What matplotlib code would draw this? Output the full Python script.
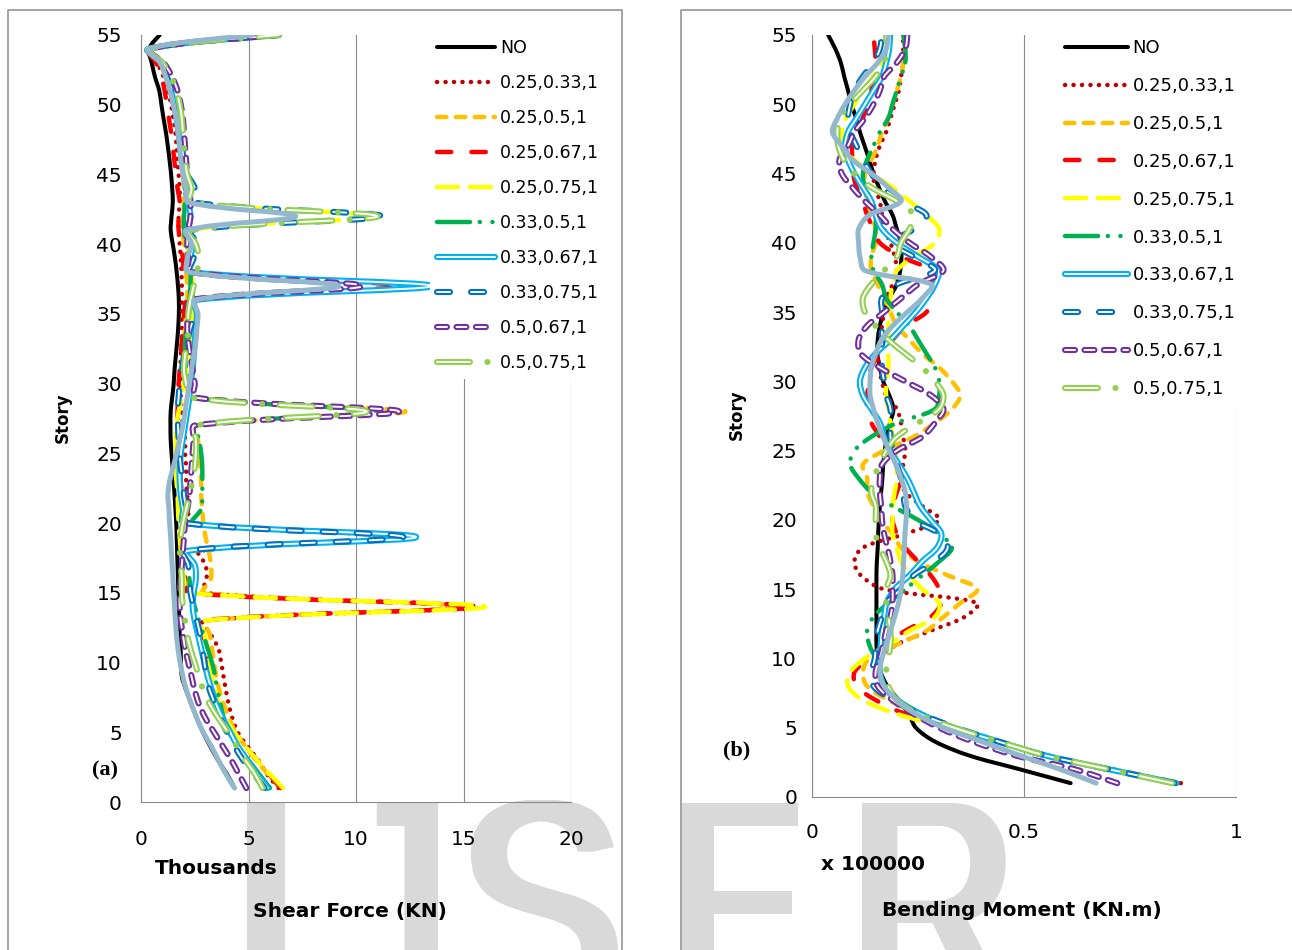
import numpy as np
import matplotlib
matplotlib.use("Agg")
import matplotlib.pyplot as plt
from matplotlib.path import Path
from matplotlib.patches import PathPatch
from matplotlib.lines import Line2D
from matplotlib.textpath import TextPath
from matplotlib.font_manager import FontProperties
from matplotlib.transforms import Affine2D

plt.rcParams["lines.scale_dashes"] = False
plt.rcParams["font.family"] = "DejaVu Sans"

stories = np.arange(1, 56)

# shear force per story (thousands of kN)
shear_no = [4.35, 4.0, 3.58, 3.22, 2.88, 2.6, 2.35, 2.1, 1.9, 1.86,
            1.84, 1.80, 1.78, 1.76, 1.74, 1.72, 1.70, 1.68, 1.66, 1.64,
            1.60, 1.56, 1.52, 1.47, 1.42, 1.38, 1.37, 1.38, 1.45, 1.52,
            1.56, 1.62, 1.68, 1.73, 1.76, 1.76, 1.72, 1.66, 1.58, 1.48,
            1.38, 1.42, 1.48, 1.45, 1.40, 1.33, 1.25, 1.16, 1.05, 0.95,
            0.85, 0.65, 0.50, 0.37, 0.87]
shear_025_033 = [6.4, 5.85, 5.45, 4.95, 4.5, 4.25, 4.08, 3.95, 3.84, 3.73,
                 3.6, 3.25, 2.9, 15.6, 2.9, 3.05, 3.0, 2.7, 11.6, 2.3,
                 2.2, 2.15, 2.1, 2.1, 2.05, 2.05, 1.95, 1.9, 1.85, 1.85,
                 1.85, 1.85, 1.9, 1.9, 1.9, 1.9, 1.9, 1.88, 1.85, 1.8,
                 1.75, 1.75, 1.8, 1.8, 1.75, 1.7, 1.65, 1.6, 1.5, 1.4,
                 1.25, 1.05, 0.75, 0.33, 6.4]
shear_025_05 = [6.5, 5.9, 5.35, 4.85, 4.4, 4.1, 3.85, 3.65, 3.5, 3.4,
                3.3, 3.2, 3.0, 14.8, 2.9, 3.25, 3.25, 3.15, 3.0, 2.9,
                2.85, 2.8, 2.8, 2.75, 2.7, 2.65, 2.5, 12.3, 2.4, 2.1,
                2.0, 2.0, 2.0, 2.05, 2.1, 2.15, 2.15, 2.1, 2.05, 2.0,
                1.95, 1.95, 2.0, 2.0, 1.95, 1.9, 1.85, 1.75, 1.65, 1.55,
                1.4, 1.15, 0.85, 0.33, 6.4]
shear_025_067 = [6.5, 5.95, 5.4, 4.85, 4.35, 3.95, 3.6, 3.35, 3.2, 3.1,
                 3.0, 2.9, 2.7, 15.5, 2.2, 2.05, 2.0, 1.95, 1.95, 1.95,
                 1.95, 1.9, 1.85, 1.8, 1.75, 1.72, 1.7, 1.7, 1.72, 1.75,
                 1.8, 1.85, 1.9, 1.95, 2.0, 2.2, 12.0, 2.1, 1.95, 1.85,
                 1.75, 1.75, 1.8, 1.7, 1.62, 1.55, 1.48, 1.4, 1.3, 1.2,
                 1.1, 0.95, 0.7, 0.33, 6.4]
shear_025_075 = [6.6, 6.0, 5.4, 4.85, 4.35, 3.95, 3.65, 3.45, 3.3, 3.2,
                 3.1, 2.95, 2.85, 16.0, 2.2, 2.0, 1.9, 1.85, 1.8, 1.75,
                 1.72, 1.7, 1.65, 1.6, 1.6, 1.62, 1.65, 1.75, 1.9, 2.0,
                 2.1, 2.2, 2.3, 2.35, 2.4, 2.45, 2.4, 2.35, 2.25, 2.15,
                 2.1, 11.0, 2.2, 2.1, 1.95, 1.85, 1.8, 1.72, 1.65, 1.5,
                 1.35, 1.15, 0.9, 0.33, 6.4]
shear_033_05 = [6.0, 5.5, 5.0, 4.5, 4.1, 3.85, 3.7, 3.55, 3.45, 3.3,
                3.1, 2.9, 2.7, 2.5, 2.35, 2.25, 2.2, 2.1, 11.8, 2.4,
                2.8, 2.85, 2.85, 2.85, 2.8, 2.7, 2.6, 11.0, 2.3, 2.2,
                2.1, 2.05, 2.05, 2.1, 2.15, 2.25, 2.3, 2.3, 2.2, 2.1,
                2.0, 2.0, 2.05, 2.05, 1.95, 1.9, 1.82, 1.75, 1.65, 1.5,
                1.35, 1.15, 0.9, 0.33, 6.4]
shear_033_067 = [5.9, 5.4, 4.95, 4.5, 4.15, 3.8, 3.5, 3.3, 3.1, 2.95,
                 2.8, 2.65, 2.5, 2.4, 2.45, 2.55, 2.5, 2.1, 12.8, 2.0,
                 1.95, 1.85, 1.8, 1.8, 1.85, 1.95, 2.05, 2.15, 2.25, 2.3,
                 2.4, 2.45, 2.5, 2.55, 2.6, 2.5, 13.5, 2.3, 2.3, 2.4,
                 2.2, 2.3, 2.2, 2.1, 2.0, 1.9, 1.82, 1.75, 1.65, 1.55,
                 1.4, 1.2, 0.95, 0.33, 6.4]
shear_033_075 = [5.75, 5.25, 4.75, 4.35, 4.0, 3.7, 3.45, 3.2, 3.05, 2.95,
                 2.85, 2.75, 2.6, 2.45, 2.3, 2.25, 2.2, 2.0, 12.2, 2.05,
                 2.1, 2.0, 1.95, 1.85, 1.8, 1.75, 1.72, 1.7, 1.75, 1.8,
                 1.9, 2.0, 2.15, 2.3, 2.5, 2.4, 2.3, 2.2, 2.45, 2.6,
                 2.3, 11.2, 2.4, 2.5, 2.15, 2.0, 1.9, 1.8, 1.7, 1.6,
                 1.45, 1.2, 0.95, 0.33, 6.4]
shear_05_067 = [4.9, 4.55, 4.2, 3.8, 3.4, 3.0, 2.7, 2.5, 2.35, 2.2,
                2.05, 1.95, 1.85, 1.8, 1.8, 1.85, 1.9, 1.95, 2.0, 2.05,
                2.15, 2.25, 2.3, 2.35, 2.4, 2.45, 2.5, 12.0, 2.5, 2.5,
                2.4, 2.3, 2.2, 2.15, 2.2, 2.3, 10.3, 2.3, 2.2, 2.15,
                2.2, 2.3, 2.3, 2.25, 2.15, 2.1, 2.05, 2.0, 1.95, 1.85,
                1.7, 1.45, 1.05, 0.35, 6.4]
shear_05_075 = [5.65, 5.3, 4.85, 4.45, 4.05, 3.6, 3.2, 2.9, 2.7, 2.5,
                2.3, 2.15, 2.05, 1.95, 1.9, 1.9, 1.85, 1.8, 1.85, 1.95,
                2.1, 2.25, 2.4, 2.5, 2.55, 2.55, 2.5, 10.5, 2.3, 2.1,
                2.0, 2.05, 2.15, 2.2, 2.2, 2.3, 2.45, 2.6, 2.7, 2.55,
                2.2, 11.0, 2.3, 2.35, 2.15, 2.05, 2.0, 1.95, 1.9, 1.8,
                1.65, 1.4, 1.0, 0.35, 6.4]
shear_067_075 = [4.35, 3.95, 3.6, 3.27, 2.9, 2.6, 2.35, 2.12, 1.95, 1.82,
                 1.72, 1.65, 1.6, 1.56, 1.52, 1.49, 1.45, 1.41, 1.38, 1.33,
                 1.3, 1.25, 1.33, 1.5, 1.65, 1.8, 1.95, 2.05, 2.15, 2.25,
                 2.35, 2.45, 2.55, 2.6, 2.65, 2.5, 9.2, 2.2, 2.15, 2.35,
                 2.1, 7.2, 2.2, 2.1, 1.95, 1.85, 1.8, 1.72, 1.65, 1.5,
                 1.35, 1.15, 0.9, 0.33, 5.2]

# bending moment per story (x 100000 kN.m)
moment_no = [0.61, 0.49, 0.37, 0.29, 0.245, 0.228, 0.204, 0.178, 0.162, 0.155,
             0.152, 0.152, 0.152, 0.152, 0.152, 0.152, 0.153, 0.155, 0.156, 0.158,
             0.16, 0.163, 0.166, 0.168, 0.172, 0.176, 0.184, 0.192, 0.182, 0.168,
             0.16, 0.154, 0.155, 0.16, 0.168, 0.182, 0.2, 0.208, 0.211, 0.21,
             0.2, 0.19, 0.172, 0.158, 0.145, 0.135, 0.124, 0.113, 0.104, 0.093,
             0.085, 0.076, 0.068, 0.055, 0.038]
moment_025_033 = [0.87, 0.71, 0.555, 0.445, 0.34, 0.26, 0.2, 0.17, 0.155, 0.16,
                  0.2, 0.28, 0.36, 0.39, 0.17, 0.115, 0.1, 0.12, 0.22, 0.3,
                  0.26, 0.22, 0.21, 0.215, 0.22, 0.215, 0.21, 0.2, 0.175, 0.165,
                  0.158, 0.156, 0.16, 0.165, 0.17, 0.175, 0.19, 0.2, 0.195, 0.185,
                  0.17, 0.165, 0.16, 0.148, 0.145, 0.15, 0.16, 0.175, 0.185, 0.195,
                  0.205, 0.21, 0.215, 0.215, 0.215]
moment_025_05 = [0.85, 0.7, 0.55, 0.44, 0.335, 0.255, 0.18, 0.13, 0.12, 0.135,
                 0.2, 0.27, 0.31, 0.35, 0.39, 0.32, 0.25, 0.21, 0.19, 0.16,
                 0.145, 0.13, 0.13, 0.12, 0.17, 0.24, 0.29, 0.33, 0.35, 0.33,
                 0.3, 0.26, 0.23, 0.2, 0.185, 0.17, 0.155, 0.14, 0.14, 0.15,
                 0.15, 0.14, 0.13, 0.125, 0.125, 0.14, 0.155, 0.165, 0.18, 0.19,
                 0.2, 0.21, 0.215, 0.22, 0.22]
moment_025_067 = [0.86, 0.7, 0.55, 0.44, 0.33, 0.22, 0.15, 0.105, 0.1, 0.135,
                  0.17, 0.22, 0.28, 0.305, 0.3, 0.28, 0.25, 0.22, 0.2, 0.19,
                  0.19, 0.2, 0.21, 0.2, 0.18, 0.16, 0.14, 0.13, 0.13, 0.135,
                  0.14, 0.16, 0.19, 0.22, 0.27, 0.28, 0.285, 0.28, 0.21, 0.16,
                  0.145, 0.13, 0.12, 0.105, 0.097, 0.095, 0.095, 0.105, 0.12, 0.13,
                  0.14, 0.145, 0.15, 0.148, 0.145]
moment_025_075 = [0.85, 0.7, 0.55, 0.435, 0.32, 0.2, 0.12, 0.085, 0.09, 0.125,
                  0.18, 0.23, 0.29, 0.3, 0.26, 0.23, 0.21, 0.2, 0.19, 0.19,
                  0.19, 0.195, 0.2, 0.2, 0.195, 0.19, 0.185, 0.18, 0.175, 0.175,
                  0.18, 0.18, 0.18, 0.18, 0.182, 0.185, 0.19, 0.2, 0.24, 0.29,
                  0.3, 0.27, 0.23, 0.19, 0.14, 0.1, 0.07, 0.07, 0.08, 0.1,
                  0.12, 0.145, 0.165, 0.175, 0.175]
moment_033_05 = [0.86, 0.7, 0.555, 0.445, 0.34, 0.26, 0.205, 0.175, 0.16, 0.15,
                 0.135, 0.13, 0.145, 0.18, 0.22, 0.26, 0.3, 0.33, 0.3, 0.25,
                 0.19, 0.14, 0.11, 0.09, 0.1, 0.14, 0.2, 0.29, 0.3, 0.3,
                 0.29, 0.27, 0.25, 0.23, 0.2, 0.175, 0.165, 0.145, 0.14, 0.145,
                 0.15, 0.15, 0.14, 0.125, 0.12, 0.13, 0.145, 0.16, 0.18, 0.19,
                 0.2, 0.21, 0.22, 0.22, 0.215]
moment_033_067 = [0.86, 0.7, 0.55, 0.44, 0.335, 0.255, 0.2, 0.17, 0.16, 0.16,
                  0.162, 0.165, 0.17, 0.176, 0.195, 0.23, 0.26, 0.295, 0.305, 0.28,
                  0.255, 0.24, 0.225, 0.205, 0.185, 0.17, 0.16, 0.14, 0.12, 0.113,
                  0.125, 0.15, 0.185, 0.215, 0.245, 0.27, 0.29, 0.298, 0.25, 0.2,
                  0.165, 0.15, 0.14, 0.12, 0.1, 0.085, 0.078, 0.085, 0.105, 0.125,
                  0.145, 0.165, 0.175, 0.182, 0.184]
moment_033_075 = [0.855, 0.7, 0.55, 0.44, 0.34, 0.255, 0.19, 0.145, 0.14, 0.148,
                  0.15, 0.155, 0.165, 0.175, 0.21, 0.24, 0.29, 0.32, 0.3, 0.24,
                  0.22, 0.215, 0.21, 0.2, 0.19, 0.185, 0.185, 0.185, 0.175, 0.17,
                  0.165, 0.165, 0.165, 0.165, 0.165, 0.165, 0.2, 0.29, 0.24, 0.19,
                  0.24, 0.27, 0.21, 0.165, 0.14, 0.12, 0.105, 0.09, 0.085, 0.09,
                  0.1, 0.12, 0.145, 0.16, 0.165]
moment_05_067 = [0.72, 0.62, 0.48, 0.38, 0.3, 0.24, 0.19, 0.155, 0.15, 0.16,
                 0.168, 0.175, 0.185, 0.19, 0.19, 0.19, 0.185, 0.178, 0.17, 0.165,
                 0.163, 0.16, 0.16, 0.165, 0.2, 0.26, 0.29, 0.31, 0.28, 0.22,
                 0.16, 0.115, 0.11, 0.13, 0.17, 0.21, 0.25, 0.31, 0.28, 0.23,
                 0.19, 0.16, 0.125, 0.095, 0.07, 0.065, 0.085, 0.1, 0.125, 0.145,
                 0.16, 0.17, 0.2, 0.22, 0.225]
moment_05_075 = [0.85, 0.7, 0.55, 0.44, 0.335, 0.25, 0.2, 0.18, 0.175, 0.18,
                 0.185, 0.185, 0.18, 0.175, 0.175, 0.185, 0.175, 0.16, 0.15, 0.15,
                 0.15, 0.14, 0.145, 0.16, 0.175, 0.2, 0.25, 0.3, 0.31, 0.29,
                 0.26, 0.22, 0.18, 0.15, 0.125, 0.12, 0.14, 0.17, 0.2, 0.21,
                 0.23, 0.24, 0.2, 0.14, 0.1, 0.075, 0.062, 0.06, 0.065, 0.09,
                 0.12, 0.15, 0.17, 0.175, 0.175]
moment_067_075 = [0.67, 0.585, 0.49, 0.4, 0.31, 0.245, 0.2, 0.17, 0.16, 0.165,
                  0.175, 0.185, 0.195, 0.204, 0.21, 0.214, 0.216, 0.218, 0.219, 0.222,
                  0.223, 0.22, 0.21, 0.198, 0.182, 0.168, 0.155, 0.145, 0.137, 0.137,
                  0.14, 0.15, 0.164, 0.19, 0.225, 0.26, 0.282, 0.125, 0.113, 0.11,
                  0.11, 0.135, 0.21, 0.18, 0.14, 0.095, 0.07, 0.048, 0.06, 0.078,
                  0.1, 0.125, 0.155, 0.175, 0.18]

series_names = ["NO", "0.25,0.33,1", "0.25,0.5,1", "0.25,0.67,1", "0.25,0.75,1",
                "0.33,0.5,1", "0.33,0.67,1", "0.33,0.75,1", "0.5,0.67,1", "0.5,0.75,1",
                "0.67,0.75,1"]
shear = [shear_no, shear_025_033, shear_025_05, shear_025_067, shear_025_075,
         shear_033_05, shear_033_067, shear_033_075, shear_05_067, shear_05_075,
         shear_067_075]
moment = [moment_no, moment_025_033, moment_025_05, moment_025_067, moment_025_075,
          moment_033_05, moment_033_067, moment_033_075, moment_05_067, moment_05_075,
          moment_067_075]
n_legend = 10  # last series has no legend entry

# line looks, dashes in points
styles = [
    dict(color="black", lw=2.9),
    dict(color="#C00000", lw=3.2, dashes=(0.1, 6.0)),
    dict(color="#FFC000", lw=3.2, dashes=(6.8, 6.8)),
    dict(color="#FF0000", lw=3.2, dashes=(10.3, 14.5)),
    dict(color="#FFFF00", lw=3.2, dashes=(15.3, 8.2)),
    dict(color="#00B050", lw=3.2, dashes=(23.8, 7.0, 0.1, 9.0, 0.1, 7.0)),
    dict(color="#00B0F0", lw=4.4, inner=1.4),
    dict(color="#0070C0", lw=4.4, inner=1.4, dashes=(9.4, 15.1)),
    dict(color="#7030A0", lw=4.4, inner=1.4, dashes=(7.2, 6.8)),
    dict(color="#92D050", lw=4.4, inner=1.4, dashes=(23.7, 12.6, 0.1, 12.6),
         inner_dashes=(23.7, 25.3)),
    dict(color="#93B8CD", lw=3.6),
]

W, H = 1292, 950
GRID = "#8A8A8A"


def smooth_path(xs, ys, kx, ky):
    # smoothed line through the points: cubic bezier whose handles follow
    # the neighbour chord, weighted by the on-screen segment lengths
    pts = np.column_stack([xs, ys]).astype(float)
    seg = np.hypot(np.diff(pts[:, 0]) * kx, np.diff(pts[:, 1]) * ky)
    seg = np.maximum(seg, 1e-6)
    n = len(pts)
    tang = np.empty_like(pts)
    tang[1:-1] = pts[2:] - pts[:-2]
    tang[0] = pts[1] - pts[0]
    tang[-1] = pts[-1] - pts[-2]
    w_out = np.full(n, 0.5)
    w_in = np.full(n, 0.5)
    w_out[1:-1] = seg[1:] / (seg[:-1] + seg[1:])
    w_in[1:-1] = seg[:-1] / (seg[:-1] + seg[1:])
    verts = [pts[0]]
    codes = [Path.MOVETO]
    for i in range(n - 1):
        c1 = pts[i] + tang[i] * w_out[i] / 3.0
        c2 = pts[i + 1] - tang[i + 1] * w_in[i + 1] / 3.0
        verts += [c1, c2, pts[i + 1]]
        codes += [Path.CURVE4] * 3
    return Path(np.array(verts), codes)


def draw_series(ax, xs, st, z, kx, ky):
    path = smooth_path(xs, stories, kx, ky)
    ls = (0, st["dashes"]) if "dashes" in st else "solid"
    ax.add_patch(PathPatch(path, fill=False, ec=st["color"], lw=st["lw"], ls=ls,
                           capstyle="round", joinstyle="round", zorder=z))
    if "inner" in st:
        d = st.get("inner_dashes", st.get("dashes"))
        ax.add_patch(PathPatch(path, fill=False, ec="white", lw=st["inner"],
                               ls=(0, d) if d else "solid",
                               capstyle="round", joinstyle="round", zorder=z + 0.01))


def legend_handle(st):
    ls = (0, st["dashes"]) if "dashes" in st else "-"
    outer = Line2D([], [], color=st["color"], lw=st["lw"], ls=ls,
                   dash_capstyle="round", solid_capstyle="round")
    if "inner" not in st:
        return outer
    d = st.get("inner_dashes", st.get("dashes"))
    inner = Line2D([], [], color="white", lw=st["inner"], ls=(0, d) if d else "-",
                   dash_capstyle="round", solid_capstyle="round")
    return (outer, inner)


def px_box(x0, y0, x1, y1):
    return [x0 / W, 1 - y1 / H, (x1 - x0) / W, (y1 - y0) / H]


def style_axes(ax, xmax, xticks, xlabels, xpad, ypad):
    ax.set_xlim(0, xmax)
    ax.set_ylim(0, 55)
    ax.set_xticks(xticks)
    ax.set_xticklabels(xlabels)
    ax.set_yticks(range(0, 56, 5))
    ax.tick_params(length=0, labelsize=14.5, colors="black")
    ax.tick_params(axis="x", pad=xpad)
    ax.tick_params(axis="y", pad=ypad)
    ax.spines["top"].set_visible(False)
    ax.spines["right"].set_visible(False)
    for s in ("left", "bottom"):
        ax.spines[s].set_color(GRID)
        ax.spines[s].set_linewidth(0.8)
    ax.grid(axis="x", color=GRID, lw=0.8)
    ax.set_axisbelow(True)
    ax.patch.set_alpha(0)


fig = plt.figure(figsize=(W / 100, H / 100), dpi=100)

# IJSER mark behind the charts; glyphs are smeared sideways to widen the stems
fp = FontProperties(family="Liberation Sans")
cap_ref = TextPath((0, 0), "I", size=100, prop=fp).get_extents().height
cap_top, cap_h, smear = 803, 205, 14
sy = cap_h / cap_ref
for ch, x0, x1 in [("I", 247, 285), ("J", None, 438), ("S", 463, 618),
                   ("E", 682, 802), ("R", 862, 1012)]:
    tp = TextPath((0, 0), ch, size=100, prop=fp)
    ext = tp.get_extents()
    if x0 is None:
        sx = 2.1
        tx = x1 - smear - ext.x1 * sx
    else:
        sx = (x1 - x0 - smear) / ext.width
        tx = x0 - ext.x0 * sx
    ty = H - (cap_top + cap_h)
    for dx in np.linspace(0, smear, 6):
        tr = (Affine2D().scale(sx, sy).translate(tx + dx, ty).scale(1 / W, 1 / H)
              + fig.transFigure)
        fig.add_artist(PathPatch(tp, transform=tr, fc="#D9D9D9", ec="none", zorder=-5))

# chart area frames
for xs, ys in [([8, 8, 622, 622], [960, 10, 10, 960]),
               ([681, 681, 1300], [960, 10, 10])]:
    fig.add_artist(Line2D([x / W for x in xs], [1 - y / H for y in ys],
                          color="#8C8C8C", lw=1.1, transform=fig.transFigure))

ax_a = fig.add_axes(px_box(141, 35, 571, 802))
ax_b = fig.add_axes(px_box(812, 35, 1236, 797))
style_axes(ax_a, 20, [0, 5, 10, 15, 20], ["0", "5", "10", "15", "20"], 20, 13.7)
style_axes(ax_b, 1, [0, 0.5, 1], ["0", "0.5", "1"], 18.7, 10.8)

for i, st in enumerate(styles):
    draw_series(ax_a, shear[i], st, 2 + i * 0.1, 21.5, 13.95)
    draw_series(ax_b, moment[i], st, 2 + i * 0.1, 424, 13.86)

handles = [legend_handle(st) for st in styles[:n_legend]]
labels = series_names[:n_legend]
common = dict(loc="upper left", bbox_transform=fig.transFigure, frameon=True,
              fancybox=False, edgecolor="none", facecolor="white", framealpha=1,
              borderpad=0.4, borderaxespad=0)
ax_a.legend(handles, labels, bbox_to_anchor=(430 / W, 1 - 32 / H), fontsize=12.5,
            handlelength=3.34, handletextpad=0.29, labelspacing=0.98, **common)
ax_b.legend(handles, labels, bbox_to_anchor=(1058 / W, 1 - 32 / H), fontsize=13,
            handlelength=3.5, handletextpad=0.22, labelspacing=1.1, **common)

bold = dict(fontsize=14.5, fontweight="bold", va="center")
fig.text(155 / W, 1 - 868 / H, "Thousands", ha="left", **bold)
fig.text(350 / W, 1 - 912 / H, "Shear Force (KN)", ha="center", **bold)
fig.text(821 / W, 1 - 864 / H, "x 100000", ha="left", **bold)
fig.text(1022 / W, 1 - 910 / H, "Bending Moment (KN.m)", ha="center", **bold)
fig.text(63 / W, 1 - 418 / H, "Story", rotation=90, ha="center", va="center",
         fontsize=12, fontweight="bold")
fig.text(737 / W, 1 - 415 / H, "Story", rotation=90, ha="center", va="center",
         fontsize=12, fontweight="bold")
fig.text(105 / W, 1 - 770 / H, "(a)", family="Liberation Serif", fontweight="bold",
         fontsize=16, ha="center", va="center")
fig.text(737 / W, 1 - 750 / H, "(b)", family="Liberation Serif", fontweight="bold",
         fontsize=16, ha="center", va="center")

fig.savefig("out.png", dpi=100)
